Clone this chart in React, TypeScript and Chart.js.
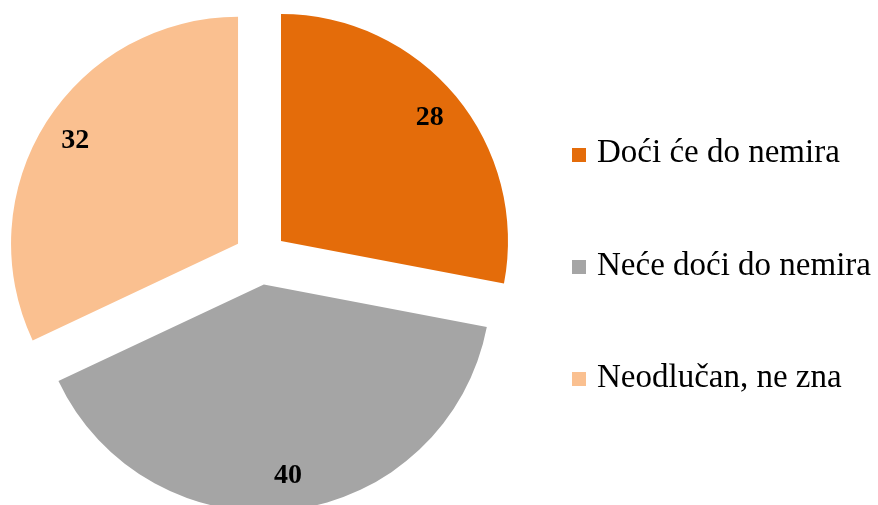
import React, { useEffect, useRef } from "react";
import { Chart, registerables } from "chart.js";

Chart.register(...registerables);

const categories = ["Doći će do nemira", "Neće doći do nemira", "Neodlučan, ne zna"];
const values = [28, 40, 32];
const colors = ["#E46C0A", "#A5A5A5", "#FAC090"];

const EXPLODE = 26.6;
const RADIUS = 227;

// Draw each arc element pushed outward along its mid-angle (exploded pie), keeping radius unchanged
const explodePlugin = {
  id: "explode",
  beforeDatasetDraw(chart: any, args: any) {
    const meta = args.meta;
    const ctx = chart.ctx;
    meta.data.forEach((arc: any) => {
      const p = arc.getProps(["startAngle", "endAngle"], true);
      const mid = (p.startAngle + p.endAngle) / 2;
      ctx.save();
      ctx.translate(Math.cos(mid) * EXPLODE, Math.sin(mid) * EXPLODE);
      arc.draw(ctx);
      ctx.restore();
    });
    return false;
  },
};

const labelPlugin = {
  id: "sliceLabels",
  afterDatasetsDraw(chart: any) {
    const meta = chart.getDatasetMeta(0);
    const ctx = chart.ctx;
    ctx.save();
    ctx.font = "bold 28px 'Liberation Serif', serif";
    ctx.fillStyle = "#000";
    ctx.textAlign = "center";
    ctx.textBaseline = "middle";
    meta.data.forEach((arc: any, i: number) => {
      const p = arc.getProps(["x", "y", "startAngle", "endAngle", "outerRadius"], true);
      const mid = (p.startAngle + p.endAngle) / 2;
      const d = EXPLODE + p.outerRadius * 0.85;
      ctx.fillText(String(values[i]), p.x + Math.cos(mid) * d, p.y + Math.sin(mid) * d);
    });
    ctx.restore();
  },
};

export default function App() {
  const ref = useRef<HTMLCanvasElement | null>(null);
  useEffect(() => {
    if (!ref.current) return;
    const chart = new Chart(ref.current, {
      type: "pie",
      data: {
        labels: categories,
        datasets: [
          {
            data: values,
            backgroundColor: colors,
            borderWidth: 0,
            offset: 0,
            radius: RADIUS,
            clip: false,
          } as any,
        ],
      },
      options: {
        responsive: false,
        animation: false,
        radius: RADIUS,
        layout: { padding: { left: 0, right: 357, top: 11, bottom: 0 } },
        plugins: { legend: { display: false }, tooltip: { enabled: false } },
      } as any,
      plugins: [explodePlugin, labelPlugin],
    });
    return () => chart.destroy();
  }, []);

  return (
    <div
      style={{
        position: "absolute",
        left: 0,
        top: 0,
        width: 878,
        height: 505,
        overflow: "hidden",
        background: "#fff",
      }}
    >
      <canvas ref={ref} width={878} height={505} style={{ position: "absolute", left: 0, top: 0 }} />
      {categories.map((c, i) => (
        <React.Fragment key={c}>
          <div
            style={{
              position: "absolute",
              left: 572,
              top: 148 + i * 112,
              width: 14,
              height: 14,
              background: colors[i],
            }}
          />
          <div
            style={{
              position: "absolute",
              left: 597,
              top: 135 + i * 112.5,
              fontFamily: "'Liberation Serif', serif",
              fontSize: 33,
              lineHeight: "33px",
              whiteSpace: "nowrap",
              color: "#000",
            }}
          >
            {c}
          </div>
        </React.Fragment>
      ))}
    </div>
  );
}
